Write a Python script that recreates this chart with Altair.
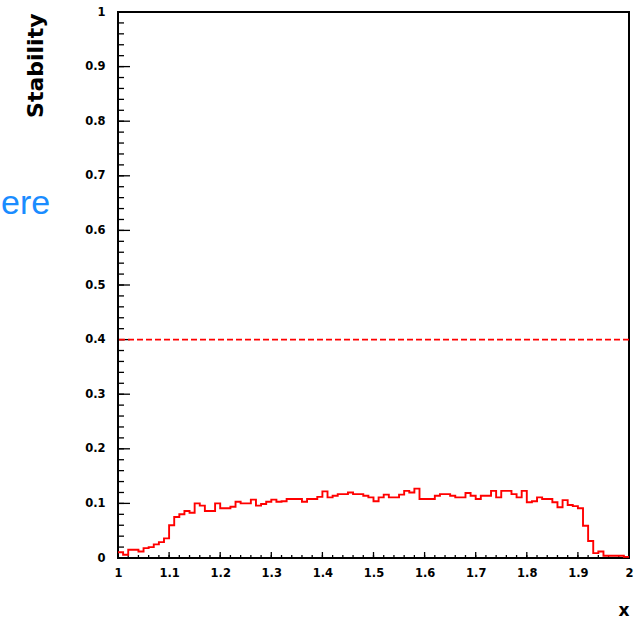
import altair as alt
import pandas as pd
import numpy as np

# ---- data ----
stability = [0.0105, 0.006, 0.015, 0.015, 0.012, 0.018, 0.020, 0.025, 0.029, 0.036,
             0.060, 0.075, 0.080, 0.086, 0.083, 0.100, 0.096, 0.086, 0.086, 0.100,
             0.091, 0.091, 0.094, 0.103, 0.100, 0.100, 0.107, 0.096, 0.099, 0.103,
             0.107, 0.103, 0.104, 0.108, 0.108, 0.108, 0.103, 0.108, 0.108, 0.112,
             0.122, 0.111, 0.114, 0.117, 0.117, 0.120, 0.117, 0.117, 0.114, 0.111,
             0.104, 0.111, 0.116, 0.111, 0.111, 0.116, 0.123, 0.120, 0.127, 0.108,
             0.108, 0.108, 0.114, 0.117, 0.117, 0.114, 0.111, 0.111, 0.119, 0.114,
             0.108, 0.114, 0.114, 0.123, 0.111, 0.123, 0.123, 0.117, 0.111, 0.123,
             0.102, 0.104, 0.111, 0.108, 0.108, 0.102, 0.093, 0.106, 0.097, 0.095,
             0.091, 0.059, 0.031, 0.009, 0.012, 0.004, 0.004, 0.004, 0.004, 0.002]
x_min, x_max = 1.0, 2.0
threshold = [0.4]
x_major = [1.0, 1.1, 1.2, 1.3, 1.4, 1.5, 1.6, 1.7, 1.8, 1.9, 2.0]
y_major = [0.0, 0.1, 0.2, 0.3, 0.4, 0.5, 0.6, 0.7, 0.8, 0.9, 1.0]
side_text = ["ere"]

# ---- build tables ----
n = len(stability)
edges = np.round(np.linspace(x_min, x_max, n + 1), 4)
hist_df = pd.DataFrame({"x": edges, "y": stability + [stability[-1]]})
x_minor = [round(v, 3) for v in np.arange(x_min, x_max + 1e-9, 0.02)]
y_minor = [round(v, 3) for v in np.arange(0, 1 + 1e-9, 0.02)]

W, H = 511, 546
FONT = "DejaVu Sans"
RED = "#ff0000"

xscale = alt.Scale(domain=[x_min, x_max], nice=False, zero=False)
yscale = alt.Scale(domain=[0, 1], nice=False, zero=False)

x_axis = alt.Axis(values=x_major, format=".1~f", ticks=False, tickSize=0, domain=False, grid=False,
                  labelFont=FONT, labelFontWeight="bold", labelFontSize=11.5, labelColor="black",
                  labelPadding=9, labelFlush=False, labelOverlap=False,
                  title="x", titleFont=FONT, titleFontWeight="bold", titleFontSize=17,
                  titleColor="black", titleX=W, titleY=57, titleAlign="right",
                  titleBaseline="alphabetic")
y_axis = alt.Axis(values=y_major, format=".1~f", ticks=False, tickSize=0, domain=False, grid=False,
                  labelFont=FONT, labelFontWeight="bold", labelFontSize=11.5, labelColor="black",
                  labelPadding=13, labelFlush=False, labelOverlap=False,
                  title="Stability", titleFont=FONT, titleFontWeight="bold", titleFontSize=22,
                  titleColor="black", titleAngle=270, titleX=-76, titleY=1,
                  titleAlign="right", titleBaseline="alphabetic")

hist = alt.Chart(hist_df).mark_line(interpolate="step-after", color=RED, strokeWidth=1.9).encode(
    x=alt.X("x:Q", scale=xscale, axis=x_axis),
    y=alt.Y("y:Q", scale=yscale, axis=y_axis),
)

thr = alt.Chart(pd.DataFrame({"t": threshold})).mark_rule(
    color=RED, strokeWidth=1.6, strokeDash=[6, 3]).encode(y=alt.Y("t:Q", scale=yscale))

# inside tick marks (ROOT style)
ymaj = alt.Chart(pd.DataFrame({"v": y_major})).mark_rule(color="black", strokeWidth=1.3).encode(
    y=alt.Y("v:Q", scale=yscale), x=alt.value(0), x2=alt.value(12))
ymin = alt.Chart(pd.DataFrame({"v": y_minor})).mark_rule(color="black", strokeWidth=1.3).encode(
    y=alt.Y("v:Q", scale=yscale), x=alt.value(0), x2=alt.value(6))
xmaj = alt.Chart(pd.DataFrame({"v": x_major})).mark_rule(color="black", strokeWidth=1.3).encode(
    x=alt.X("v:Q", scale=xscale), y=alt.value(H), y2=alt.value(H - 6))
xmin = alt.Chart(pd.DataFrame({"v": x_minor})).mark_rule(color="black", strokeWidth=1.3).encode(
    x=alt.X("v:Q", scale=xscale), y=alt.value(H), y2=alt.value(H - 3))

side = alt.Chart(pd.DataFrame({"s": side_text})).mark_text(
    font="Liberation Sans", fontSize=34, color="#1a8cff", align="left", baseline="alphabetic"
).encode(text="s:N", x=alt.value(0 - 117), y=alt.value(214 - 12))

chart = alt.layer(ymin, ymaj, xmin, xmaj, thr, hist, side).properties(
    width=W, height=H,
    autosize=alt.AutoSizeParams(type="none"),
    padding={"left": 118, "top": 12, "right": 12, "bottom": 60},
    background="white",
).configure_view(stroke="black", strokeWidth=2, fill="white")

chart.save("out.html", embed_options={"renderer": "svg", "actions": False})
